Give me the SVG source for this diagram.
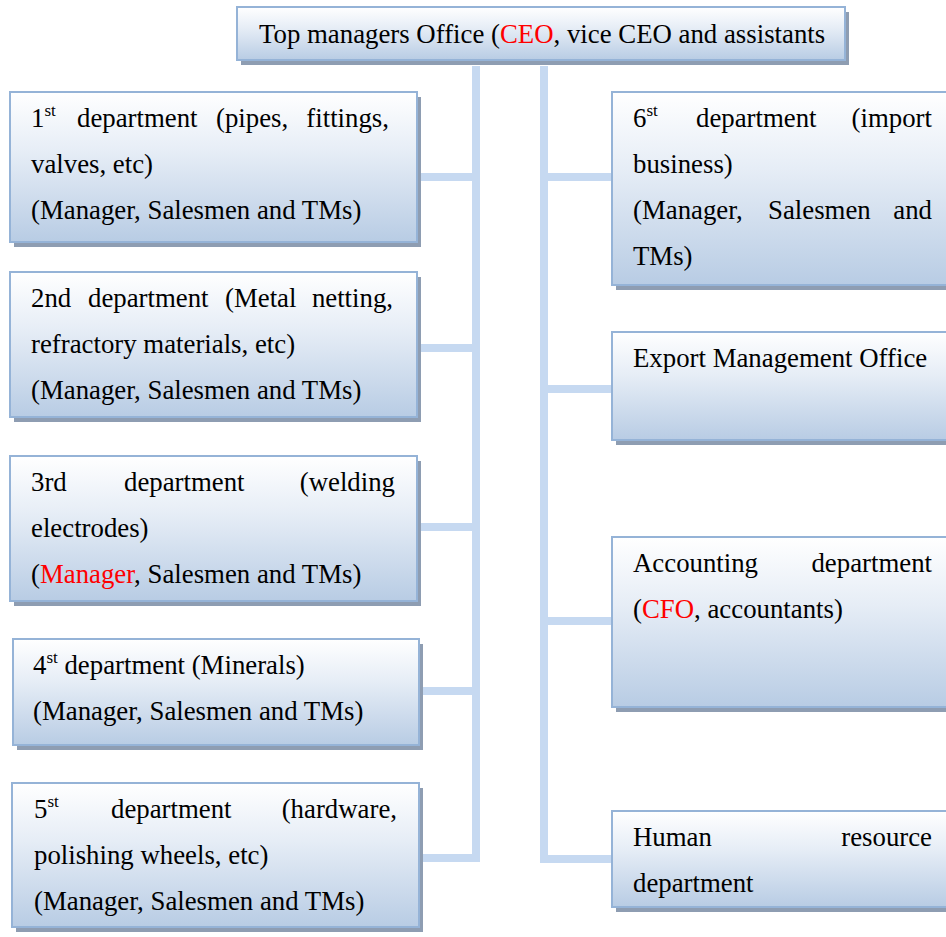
<svg xmlns="http://www.w3.org/2000/svg" width="946" height="937" viewBox="0 0 946 937">
  <style>
    .box { fill: url(#boxFill); stroke: #95b3d7; stroke-width: 2; }
    .shadow { fill: #8e9db2; }
    .t { font-family: "Liberation Serif", "Times New Roman", serif; font-size: 26.8px; fill: #000; }
    .sup { font-family: "Liberation Serif", "Times New Roman", serif; font-size: 17px; fill: #000; }
    .red { fill: #ff0000; }
    .conn { stroke: #c6d9f1; stroke-width: 8; fill: none; }
  </style>
  <defs>
    <linearGradient id="boxFill" x1="0" y1="0" x2="0" y2="1">
      <stop offset="0" stop-color="#ffffff"/>
      <stop offset="0.4" stop-color="#e6edf6"/>
      <stop offset="1" stop-color="#b8cce4"/>
    </linearGradient>
  </defs>

  <rect width="946" height="937" fill="#ffffff"/>

  <!-- connectors: two trunks with branches -->
  <g id="connectors">
    <path class="conn" d="M476 66 V858 H417"/>
    <path class="conn" d="M417 177 H476 M417 348 H476 M417 527 H476 M420 691 H476"/>
    <path class="conn" d="M544 66 V859 H614"/>
    <path class="conn" d="M544 177 H612 M544 389 H612 M544 621 H612"/>
  </g>

  <!-- top office -->
  <g id="top-office">
    <rect class="shadow" x="241" y="12" width="608" height="53"/>
    <rect class="box" x="237" y="7" width="608" height="53"/>
    <text class="t" x="259" y="43">Top managers Office (<tspan class="red">CEO</tspan>, vice CEO and assistants</text>
  </g>

  <!-- left column -->
  <g id="dept-1">
    <rect class="shadow" x="14" y="97" width="407" height="150"/>
    <rect class="box" x="10" y="92" width="407" height="150"/>
    <text class="t" x="31" y="127">1</text>
    <text class="sup" x="44.5" y="116">st</text>
    <text class="t" x="77" y="127">department</text>
    <text class="t" x="216" y="127">(pipes,</text>
    <text class="t" x="389" y="127" text-anchor="end">fittings,</text>
    <text class="t" x="31" y="173">valves, etc)</text>
    <text class="t" x="31" y="219">(Manager, Salesmen and TMs)</text>
  </g>

  <g id="dept-2">
    <rect class="shadow" x="14" y="277" width="407" height="145"/>
    <rect class="box" x="10" y="272" width="407" height="145"/>
    <text class="t" x="31" y="307">2nd</text>
    <text class="t" x="88" y="307">department</text>
    <text class="t" x="225" y="307">(Metal</text>
    <text class="t" x="393" y="307" text-anchor="end">netting,</text>
    <text class="t" x="31" y="353">refractory materials, etc)</text>
    <text class="t" x="31" y="399">(Manager, Salesmen and TMs)</text>
  </g>

  <g id="dept-3">
    <rect class="shadow" x="14" y="461" width="407" height="145"/>
    <rect class="box" x="10" y="456" width="407" height="145"/>
    <text class="t" x="31" y="491">3rd</text>
    <text class="t" x="124" y="491">department</text>
    <text class="t" x="395" y="491" text-anchor="end">(welding</text>
    <text class="t" x="31" y="537">electrodes)</text>
    <text class="t" x="31" y="583">(<tspan class="red">Manager</tspan>, Salesmen and TMs)</text>
  </g>

  <g id="dept-4">
    <rect class="shadow" x="17" y="644" width="406" height="106"/>
    <rect class="box" x="13" y="639" width="406" height="106"/>
    <text class="t" x="33" y="674">4<tspan class="sup" dy="-11">st</tspan><tspan dy="11"> department (Minerals)</tspan></text>
    <text class="t" x="33" y="720">(Manager, Salesmen and TMs)</text>
  </g>

  <g id="dept-5">
    <rect class="shadow" x="16" y="788" width="407" height="144"/>
    <rect class="box" x="12" y="783" width="407" height="144"/>
    <text class="t" x="34" y="818">5</text>
    <text class="sup" x="47.5" y="807">st</text>
    <text class="t" x="111" y="818">department</text>
    <text class="t" x="397" y="818" text-anchor="end">(hardware,</text>
    <text class="t" x="34" y="864">polishing wheels, etc)</text>
    <text class="t" x="34" y="910">(Manager, Salesmen and TMs)</text>
  </g>

  <!-- right column -->
  <g id="dept-6">
    <rect class="shadow" x="616" y="97" width="350" height="193"/>
    <rect class="box" x="612" y="92" width="350" height="193"/>
    <text class="t" x="633" y="127">6</text>
    <text class="sup" x="646.5" y="116">st</text>
    <text class="t" x="696" y="127">department</text>
    <text class="t" x="932" y="127" text-anchor="end">(import</text>
    <text class="t" x="633" y="173">business)</text>
    <text class="t" x="633" y="219">(Manager,</text>
    <text class="t" x="768" y="219">Salesmen</text>
    <text class="t" x="932" y="219" text-anchor="end">and</text>
    <text class="t" x="633" y="265">TMs)</text>
  </g>

  <g id="export-office">
    <rect class="shadow" x="616" y="337" width="350" height="108"/>
    <rect class="box" x="612" y="332" width="350" height="108"/>
    <text class="t" x="633" y="367">Export Management Office</text>
  </g>

  <g id="accounting">
    <rect class="shadow" x="616" y="542" width="350" height="170"/>
    <rect class="box" x="612" y="537" width="350" height="170"/>
    <text class="t" x="633" y="572">Accounting</text>
    <text class="t" x="932" y="572" text-anchor="end">department</text>
    <text class="t" x="633" y="618">(<tspan class="red">CFO</tspan>, accountants)</text>
  </g>

  <g id="human-resources">
    <rect class="shadow" x="616" y="816" width="350" height="96"/>
    <rect class="box" x="612" y="811" width="350" height="96"/>
    <text class="t" x="633" y="846">Human</text>
    <text class="t" x="932" y="846" text-anchor="end">resource</text>
    <text class="t" x="633" y="892">department</text>
  </g>
</svg>
